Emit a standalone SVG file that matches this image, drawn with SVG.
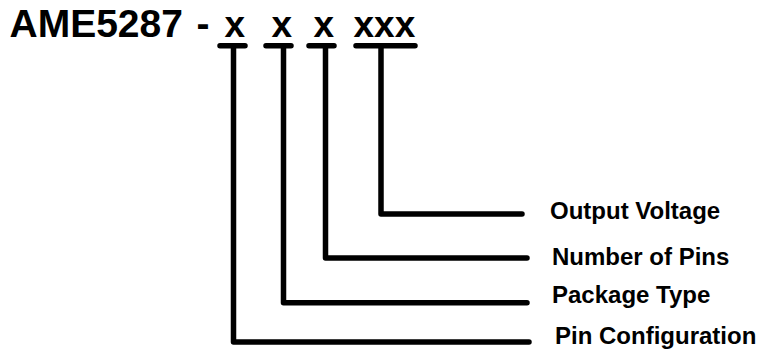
<svg xmlns="http://www.w3.org/2000/svg" width="758" height="361" viewBox="0 0 758 361">
<style>
.t{font-family:"Liberation Sans",Arial,sans-serif;font-weight:bold;fill:#000}
.title{font-size:39px}
.xs{font-size:37px}
.lbl{font-size:24px}
.ln{fill:none;stroke:#000;stroke-width:5.5;stroke-linecap:round;stroke-linejoin:round}
</style>
<rect width="758" height="361" fill="#fff"/>
<g id="title">
<text class="t title" y="36.5"><tspan x="9.5">AME5287</tspan><tspan x="196.5">-</tspan><tspan class="xs" x="224.5">x</tspan><tspan class="xs" x="271.5">x</tspan><tspan class="xs" x="313.5">x</tspan><tspan class="xs" x="353.5">xxx</tspan></text>
</g>
<g id="connectors">
<path class="ln" d="M220 45.7H245M266 45.7H291M309 45.7H334M356 45.7H415"/>
<path class="ln" d="M381 46V214H522"/>
<path class="ln" d="M325.5 46V258H527"/>
<path class="ln" d="M283.5 46V302.7H527"/>
<path class="ln" d="M233.5 46V342H529"/>
</g>
<g id="output-voltage"><text class="t lbl" x="550" y="219">Output Voltage</text></g>
<g id="number-of-pins"><text class="t lbl" x="552" y="265">Number of Pins</text></g>
<g id="package-type"><text class="t lbl" x="552" y="303">Package Type</text></g>
<g id="pin-configuration"><text class="t lbl" x="555" y="344">Pin Configuration</text></g>
</svg>
